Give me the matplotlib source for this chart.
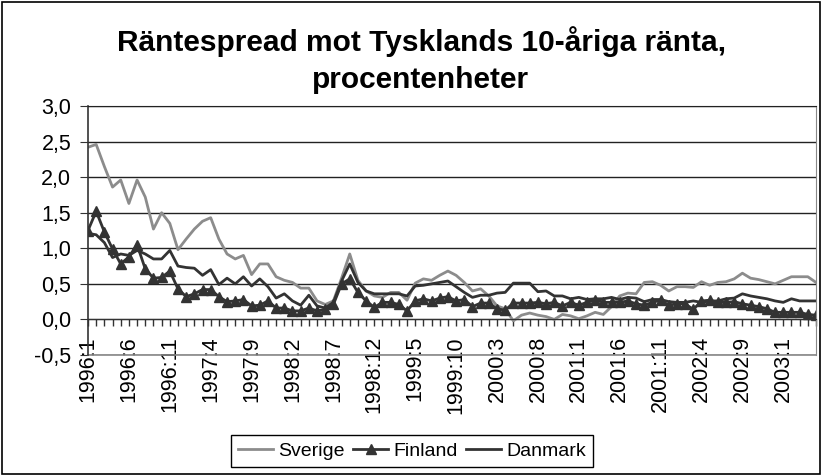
#!/usr/bin/env python3

'''Räntespread mot Tysklands 10-åriga ränta, line chart.'''

import matplotlib.pyplot as plt
from matplotlib.patches import Rectangle
from matplotlib.ticker import FuncFormatter

plt.rcParams['font.family'] = ['Liberation Sans', 'DejaVu Sans']

TITLE_1 = 'Räntespread mot Tysklands 10-åriga ränta,'
TITLE_2 = 'procentenheter'

TICK_LABELS = ['1996:1', '1996:6', '1996:11', '1997:4', '1997:9', '1998:2',
               '1998:7', '1998:12', '1999:5', '1999:10', '2000:3', '2000:8',
               '2001:1', '2001:6', '2001:11', '2002:4', '2002:9', '2003:1']

SVERIGE = [2.42, 2.46, 2.15, 1.86, 1.96, 1.63, 1.96, 1.72, 1.27, 1.50,
           1.35, 0.98, 1.13, 1.27, 1.38, 1.43, 1.13, 0.92, 0.85, 0.90,
           0.63, 0.78, 0.78, 0.60, 0.55, 0.52, 0.44, 0.44, 0.26, 0.21,
           0.26, 0.58, 0.92, 0.55, 0.40, 0.33, 0.31, 0.38, 0.38, 0.27,
           0.51, 0.57, 0.55, 0.62, 0.68, 0.62, 0.52, 0.40, 0.43, 0.33,
           0.19, 0.15, -0.02, 0.06, 0.09, 0.06, 0.04, 0.00, 0.07, 0.05,
           0.01, 0.05, 0.10, 0.07, 0.18, 0.33, 0.37, 0.36, 0.52, 0.53,
           0.48, 0.40, 0.46, 0.46, 0.45, 0.53, 0.48, 0.52, 0.53, 0.57,
           0.65, 0.58, 0.56, 0.53, 0.50, 0.55, 0.60, 0.60, 0.60, 0.52]

FINLAND = [1.25, 1.52, 1.23, 0.99, 0.78, 0.88, 1.05, 0.71, 0.58, 0.59,
           0.68, 0.43, 0.32, 0.36, 0.42, 0.42, 0.32, 0.25, 0.26, 0.28,
           0.19, 0.20, 0.26, 0.16, 0.16, 0.12, 0.12, 0.16, 0.12, 0.14,
           0.21, 0.50, 0.57, 0.38, 0.26, 0.17, 0.24, 0.24, 0.21, 0.12,
           0.26, 0.29, 0.26, 0.30, 0.32, 0.26, 0.28, 0.18, 0.23, 0.23,
           0.15, 0.13, 0.23, 0.23, 0.23, 0.24, 0.22, 0.24, 0.19, 0.24,
           0.20, 0.24, 0.28, 0.24, 0.24, 0.24, 0.26, 0.22, 0.20, 0.24,
           0.27, 0.20, 0.22, 0.22, 0.14, 0.26, 0.27, 0.24, 0.24, 0.25,
           0.22, 0.20, 0.18, 0.15, 0.10, 0.10, 0.10, 0.10, 0.07, 0.06]

DANMARK = [1.21, 1.19, 1.08, 0.87, 0.92, 0.90, 0.97, 0.92, 0.85, 0.85,
           0.97, 0.75, 0.73, 0.72, 0.62, 0.70, 0.49, 0.58, 0.50, 0.60,
           0.47, 0.57, 0.46, 0.30, 0.36, 0.26, 0.20, 0.34, 0.19, 0.16,
           0.24, 0.54, 0.78, 0.52, 0.40, 0.36, 0.36, 0.36, 0.36, 0.33,
           0.47, 0.48, 0.50, 0.52, 0.54, 0.46, 0.38, 0.31, 0.34, 0.34,
           0.37, 0.38, 0.51, 0.51, 0.51, 0.39, 0.40, 0.33, 0.33, 0.29,
           0.31, 0.28, 0.29, 0.29, 0.31, 0.28, 0.31, 0.30, 0.25, 0.28,
           0.28, 0.25, 0.24, 0.24, 0.26, 0.24, 0.26, 0.26, 0.29, 0.30,
           0.36, 0.33, 0.31, 0.29, 0.26, 0.24, 0.29, 0.26, 0.26, 0.26]

GRAY = '#8c8c8c'
DARK = '#333333'
TICK_SIZE = 15.5
LEGEND_SIZE = 14
TITLE_SIZE = 21.5
LW = 2.0

W, H = 822, 475


def comma_fmt(value, _pos):
    '''Format tick values with a decimal comma.'''
    return f'{value:.1f}'.replace('.', ',')


fig = plt.figure(figsize=(W / 100, H / 100), dpi=100)
ax = fig.add_axes([88 / W, 1 - 355 / H, (816 - 88) / W, (355 - 106) / H])

x = range(len(SVERIGE))
ax.plot(x, SVERIGE, color=GRAY, lw=LW, label='Sverige')
ax.plot(x, FINLAND, color=DARK, lw=LW, marker='^', ms=7, label='Finland')
ax.plot(x, DANMARK, color=DARK, lw=LW, label='Danmark')

ax.set_xlim(0, len(SVERIGE) - 1)
ax.set_ylim(-0.5, 3.0)
ax.set_yticks([-0.5, 0.0, 0.5, 1.0, 1.5, 2.0, 2.5, 3.0])
ax.yaxis.set_major_formatter(FuncFormatter(comma_fmt))
ax.set_xticks(range(0, len(SVERIGE), 5), TICK_LABELS)
ax.set_xticks(range(len(SVERIGE)), minor=True)

ax.grid(axis='y', color='#222222', lw=1)
ax.set_axisbelow(True)

ax.spines['bottom'].set_position(('data', 0))
ax.spines['bottom'].set_color(DARK)
ax.spines['left'].set_color(DARK)
ax.spines['left'].set_linewidth(1.2)
ax.spines['top'].set_color('#222222')
ax.spines['right'].set_color('#888888')
ax.plot([0, 1], [0, 0], transform=ax.transAxes, color='#888888', lw=1.2,
        clip_on=False)

ax.tick_params(axis='x', which='both', direction='out', length=5,
               color=DARK, width=1)
ax.tick_params(axis='x', labelrotation=90, labelsize=TICK_SIZE, pad=7)
ax.tick_params(axis='y', length=6, color=DARK, labelsize=TICK_SIZE, pad=6)

fig.text(421 / W, 1 - 42 / H, TITLE_1, ha='center', va='center',
         fontsize=TITLE_SIZE, fontweight='bold')
fig.text(421 / W, 1 - 80 / H, TITLE_2, ha='center', va='center',
         fontsize=TITLE_SIZE, fontweight='bold')

leg = ax.legend(loc='center', bbox_to_anchor=(412 / W, 1 - 451 / H),
                bbox_transform=fig.transFigure, ncol=3, numpoints=1,
                fontsize=LEGEND_SIZE, frameon=True, fancybox=False,
                framealpha=1, borderpad=0.35, handlelength=1.8,
                handletextpad=0.25, columnspacing=0.45)
leg.get_frame().set_edgecolor('black')
leg.get_frame().set_linewidth(1)

fig.patches.append(Rectangle((0.002, 0.003), 0.996, 0.993,
                             transform=fig.transFigure, fill=False,
                             ec='black', lw=1.2))

fig.savefig('out.png', dpi=100)
